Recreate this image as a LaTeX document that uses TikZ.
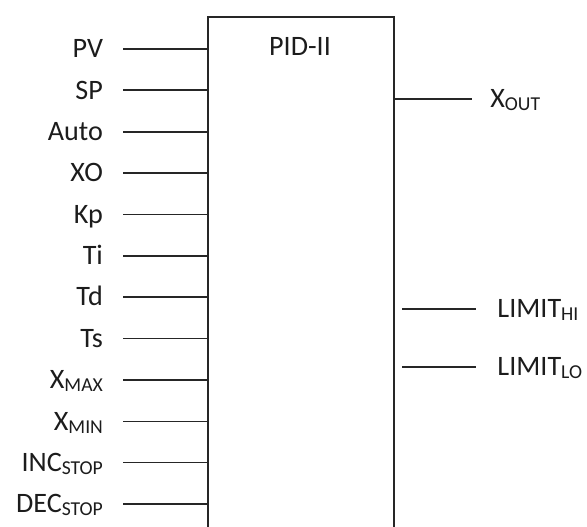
\documentclass[tikz,border=0pt]{standalone}
\usepackage{fontspec}
\setmainfont{Carlito}
\usetikzlibrary{positioning, calc}
\newcommand{\pinsub}[1]{\raisebox{-2pt}{\fontsize{14}{16}\selectfont #1}}

\begin{document}
\begin{tikzpicture}[
    x=1cm, y=1cm,
    every node/.style={font=\fontsize{20}{24}\selectfont, text=inkTone, inner sep=0pt,
      text height=14.8pt, text depth=2pt},
    pinLabel/.style={anchor=east},
    outLabel/.style={anchor=west},
    pin/.style={draw=lineTone, line width=1.2pt},
    frame/.style={draw=lineTone, line width=1.4pt}
  ]
    \definecolor{inkTone}{RGB}{28,28,28}
    \definecolor{lineTone}{RGB}{38,38,38}

    \useasboundingbox (0,0) rectangle (14.675,13.175);

    % function block, open at the bottom
    \node[minimum width=4.65cm, minimum height=12.75cm] (pid) at (7.525,6.375) {};
    \draw[frame] (pid.south west) |- (pid.north east) -- (pid.south east);
    \node (title) at (7.50,12.00) {PID-II};

    % inputs
    \node[pinLabel] (pv)    at (2.58,11.95) {PV};
    \node[pinLabel] (sp)    at (2.58,10.92) {SP};
    \node[pinLabel] (auto)  at (2.58,9.88) {Auto};
    \node[pinLabel] (xo)    at (2.58,8.85) {XO};
    \node[pinLabel] (kp)    at (2.58,7.81) {Kp};
    \node[pinLabel] (ti)    at (2.58,6.78) {Ti};
    \node[pinLabel] (td)    at (2.58,5.75) {Td};
    \node[pinLabel] (ts)    at (2.58,4.71) {Ts};
    \node[pinLabel] (xmax)  at (2.58,3.68) {X\pinsub{MAX}};
    \node[pinLabel] (xmin)  at (2.58,2.64) {X\pinsub{MIN}};
    \node[pinLabel] (incst) at (2.58,1.61) {INC\pinsub{STOP}};
    \node[pinLabel] (decst) at (2.58,0.58) {DEC\pinsub{STOP}};

    \draw[pin] ([xshift=5mm]pv.east) -- (pv -| pid.west);
    \draw[pin] ([xshift=5mm]sp.east) -- (sp -| pid.west);
    \draw[pin] ([xshift=5mm]auto.east) -- (auto -| pid.west);
    \draw[pin] ([xshift=5mm]xo.east) -- (xo -| pid.west);
    \draw[pin] ([xshift=5mm]kp.east) -- (kp -| pid.west);
    \draw[pin] ([xshift=5mm]ti.east) -- (ti -| pid.west);
    \draw[pin] ([xshift=5mm]td.east) -- (td -| pid.west);
    \draw[pin] ([xshift=5mm]ts.east) -- (ts -| pid.west);
    \draw[pin] ([xshift=5mm]xmax.east) -- (xmax -| pid.west);
    \draw[pin] ([xshift=5mm]xmin.east) -- (xmin -| pid.west);
    \draw[pin] ([xshift=5mm]incst.east) -- (incst -| pid.west);
    \draw[pin] ([xshift=5mm]decst.east) -- (decst -| pid.west);

    % outputs
    \node[outLabel] (xout)  at (12.25,10.70) {X\pinsub{OUT}};
    \node[outLabel] (limhi) at (12.43,5.45) {LIMIT\pinsub{HI}};
    \node[outLabel] (limlo) at (12.43,4.00) {LIMIT\pinsub{LO}};

    \draw[pin] (pid.east |- xout) -- ([xshift=-4.5mm]xout.west);
    \draw[pin] ($(pid.east |- limhi)+(0.2,0)$) -- ([xshift=-5.3mm]limhi.west);
    \draw[pin] ($(pid.east |- limlo)+(0.2,0)$) -- ([xshift=-5.3mm]limlo.west);
  \end{tikzpicture}
\end{document}
